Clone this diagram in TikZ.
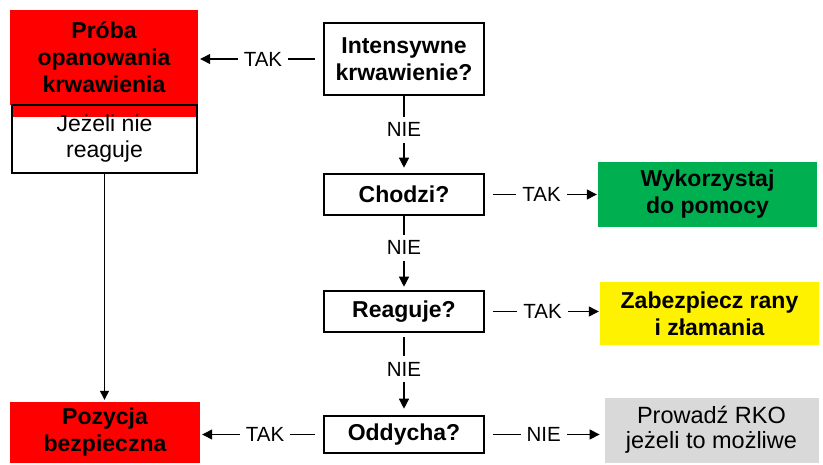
\documentclass[tikz,border=0pt]{standalone}
\usepackage{fontspec}
\setmainfont{Liberation Sans}
\usetikzlibrary{arrows.meta}

\definecolor{zielony}{RGB}{0,176,80}
\definecolor{szary}{RGB}{217,217,217}

\begin{document}
\begin{tikzpicture}[x=1pt, y=-1pt,
		pytanie/.style={draw=black, line width=2.6pt, minimum width=160pt, inner sep=0pt, align=center, font=\fontsize{23}{27}\selectfont\bfseries},
		pole/.style={minimum width=#1, inner sep=0pt, align=center, font=\fontsize{23}{27}\selectfont\bfseries},
		strz/.style={line width=1.3pt, -{Triangle[length=10pt,width=10pt]}},
		opis/.style={fill=white, inner sep=6pt, font=\fontsize{20.5}{24}\selectfont}]
			%%%%% START %%%%%
			\useasboundingbox (0, 0) rectangle (823, 464);
			
			% lewa kolumna
			\node[pole=188pt, minimum height=95pt, fill=red] (proba) at (104, 57.5) {Próba\\opanowania\\krwawienia};
			\node[draw=black, line width=2.6pt, minimum width=185pt, minimum height=68pt, inner sep=0pt, align=center, font=\fontsize{23}{26}\selectfont,
				path picture={\fill[red] (path picture bounding box.north west) rectangle ([yshift=-12pt]path picture bounding box.north east);}] (nr) at (104.5, 139) {Jeżeli nie\\reaguje};
			\node[pole=190pt, minimum height=61pt, fill=red] (bezp) at (105, 432.5) {Pozycja\\bezpieczna};
			
			% pytania
			\node[pytanie, minimum height=72pt] (int) at (404, 59) {Intensywne\\krwawienie?};
			\node[pytanie, minimum height=41pt] (chodzi) at (404, 194.5) {Chodzi?};
			\node[pytanie, minimum height=41pt] (reag) at (404, 311.5) {Reaguje?};
			\node[pytanie, minimum height=37pt] (oddycha) at (404, 434.5) {Oddycha?};
			
			% prawa kolumna
			\node[pole=219pt, minimum height=65pt, fill=zielony] (wyk) at (707.5, 194.5) {Wykorzystaj\\do pomocy};
			\node[pole=219pt, minimum height=63pt, fill=yellow] (zab) at (709.5, 313.5) {Zabezpiecz rany\\i złamania};
			\node[pole=213pt, minimum height=64pt, fill=szary, draw=black!15, line width=0.8pt, font=\fontsize{23.5}{25}\selectfont] (rko) at (711.5, 430) {Prowadź RKO\\jeżeli to możliwe};
			
			% strzalki
			\draw[strz, shorten <=8pt, shorten >=2pt] (int.west) -- node[opis, pos=0.48] {TAK} (int.west -| proba.east);
			\draw[strz, shorten >=5pt] (int.south) -- node[opis, pos=0.44] {NIE} (chodzi.north);
			\draw[strz, shorten <=8pt, shorten >=1pt] (chodzi.east) -- node[opis] {TAK} (chodzi.east -| wyk.west);
			\draw[strz, shorten >=3pt] (chodzi.south) -- node[opis, pos=0.43] {NIE} (reag.north);
			\draw[strz, shorten <=8pt, shorten >=1pt] (reag.east) -- node[opis] {TAK} (reag.east -| zab.west);
			\draw[strz, shorten <=4pt, shorten >=6pt] (reag.south) -- node[opis, pos=0.44] {NIE} (oddycha.north);
			\draw[strz, shorten <=8pt, shorten >=2pt] (oddycha.west) -- node[opis, pos=0.47] {TAK} (oddycha.west -| bezp.east);
			\draw[strz, shorten <=8pt, shorten >=5pt] (oddycha.east) -- node[opis, pos=0.49] {NIE} (oddycha.east -| rko.west);
			\draw[line width=1.2pt, -{Triangle[length=9pt,width=9pt]}, shorten >=2pt] (nr.south) -- (nr.south |- bezp.north);
			
			%%%%% END %%%%%
		\end{tikzpicture}
\end{document}
